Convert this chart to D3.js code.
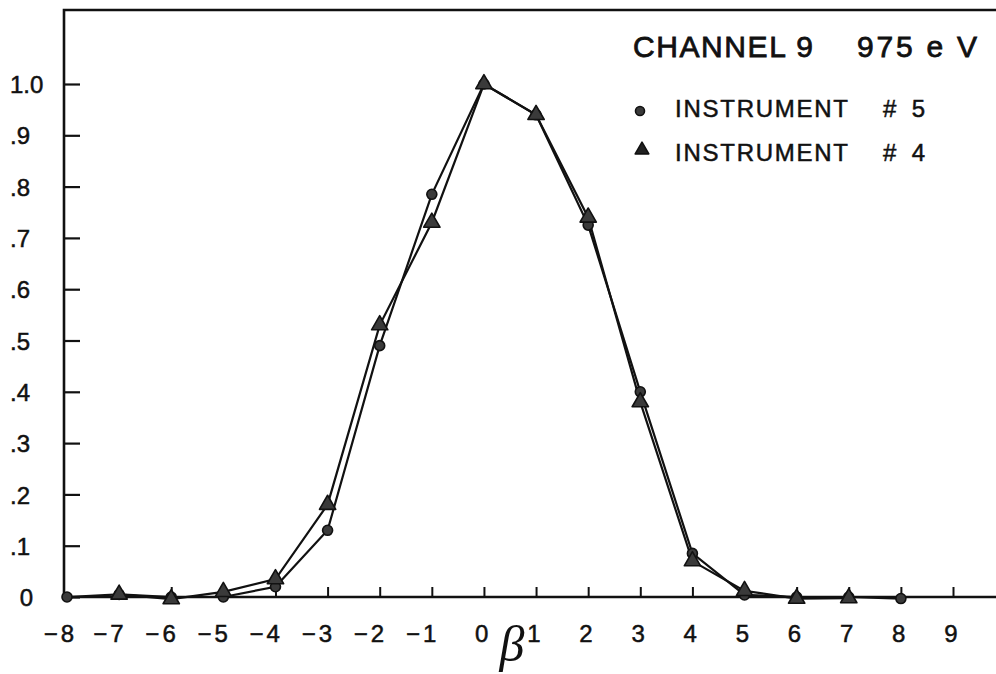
<!DOCTYPE html>
<html>
<head>
<meta charset="utf-8">
<script src="https://cdn.jsdelivr.net/npm/d3@7"></script>
<style>
  html, body { margin: 0; padding: 0; background: #fff; }
  svg { display: block; }
  text { font-family: "Liberation Sans", Arial, sans-serif; fill: #111; }
  text.inked { stroke: #111; stroke-width: 0.5px; }
</style>
</head>
<body>
<svg id="chart" width="996" height="674"></svg>
<script>
// Relative response versus beta for channel 9 (975 eV)
const betaInst5 = [-8, -7, -6, -5, -4, -3, -2, -1, 0, 1, 2, 3, 4, 5, 6, 7, 8];
const valuesInst5 = [0, 0.005, 0, 0, 0.02, 0.13, 0.49, 0.785, 1.0, 0.94, 0.725, 0.40, 0.085, 0.004, 0, 0, -0.003];

const betaInst4 = [-7, -6, -5, -4, -3, -2, -1, 0, 1, 2, 3, 4, 5, 6, 7];
const valuesInst4 = [0.005, -0.004, 0.01, 0.035, 0.18, 0.53, 0.73, 1.0, 0.94, 0.74, 0.38, 0.07, 0.012, -0.003, -0.002];

const xTickValues = [-8, -7, -6, -5, -4, -3, -2, -1, 0, 1, 2, 3, 4, 5, 6, 7, 8, 9];
const xTickLabels = ["−8", "−7", "−6", "−5", "−4", "−3", "−2", "−1", "0", "1", "2", "3", "4", "5", "6", "7", "8", "9"];
const yTickValues = [0, 0.1, 0.2, 0.3, 0.4, 0.5, 0.6, 0.7, 0.8, 0.9, 1.0];
const yTickLabels = ["0", ".1", ".2", ".3", ".4", ".5", ".6", ".7", ".8", ".9", "1.0"];

const titleParts = ["CHANNEL 9", "975 e V"];
const legendNames = ["INSTRUMENT", "INSTRUMENT"];
const legendNumbers = ["# 5", "# 4"];
const legendSymbols = ["circle", "triangle"];
const axisTitle = "β";

const svg = d3.select("#chart");
const W = 996;
const axisX = 64, axisY = 597, topY = 10;

const x = d3.scaleLinear().domain([-8, 9]).range([67, 953]);
const y = d3.scaleLinear().domain([0, 1]).range([axisY, 84]);

const ink = "#111";

// Frame: left axis, top edge, bottom axis
svg.append("path")
  .attr("d", `M${W},${topY}H${axisX}V${axisY}H${W}`)
  .attr("fill", "none")
  .attr("stroke", ink)
  .attr("stroke-width", 2.6);

// Y axis ticks (pointing inward) and labels
const yAxis = d3.axisLeft(y)
  .tickValues(yTickValues)
  .tickSize(-16)
  .tickSizeOuter(0)
  .tickFormat((d, i) => yTickLabels[i]);

const gy = svg.append("g").attr("transform", `translate(${axisX},0)`).call(yAxis);
gy.select(".domain").remove();
gy.selectAll(".tick line").attr("stroke", ink).attr("stroke-width", 2.2);
gy.selectAll(".tick text")
  .attr("class", "inked")
  .attr("font-size", 24)
  .attr("font-family", "Liberation Sans, Arial, sans-serif")
  .attr("fill", ink)
  .attr("dy", "0.36em")
  .attr("text-anchor", (d) => d === 0 ? "end" : "start")
  .attr("x", (d) => d === 0 ? 33 - axisX : 10 - axisX);

// X axis ticks (pointing up) and labels
const xAxis = d3.axisBottom(x)
  .tickValues(xTickValues.slice(1))
  .tickSize(-10)
  .tickSizeOuter(0)
  .tickFormat((d) => xTickLabels[xTickValues.indexOf(d)]);

const gx = svg.append("g").attr("transform", `translate(0,${axisY})`).call(xAxis);
gx.select(".domain").remove();
gx.selectAll(".tick line").attr("stroke", ink).attr("stroke-width", 2);
gx.selectAll(".tick text")
  .attr("class", "inked")
  .attr("font-size", 24)
  .attr("font-family", "Liberation Sans, Arial, sans-serif")
  .attr("fill", ink)
  .attr("text-anchor", "end")
  .attr("x", 7)
  .attr("y", 45)
  .attr("dy", 0)
  .attr("letter-spacing", 3);

// Label for the leftmost beta value sits at the axis corner
svg.append("text")
  .attr("class", "inked")
  .attr("x", x(-8) + 10)
  .attr("y", axisY + 45)
  .attr("text-anchor", "end")
  .attr("font-size", 24)
  .attr("letter-spacing", 3)
  .text(xTickLabels[0]);

// Beta axis title
svg.append("text")
  .attr("x", 512)
  .attr("y", 661)
  .attr("text-anchor", "middle")
  .attr("font-style", "italic")
  .attr("font-size", 50)
  .style("font-family", "'Liberation Serif', 'DejaVu Serif', serif")
  .text(axisTitle);

// Curves
const line = d3.line().x((d) => x(d[0])).y((d) => y(d[1]));
const series4 = betaInst4.map((b, i) => [b, valuesInst4[i]]);
const series5 = betaInst5.map((b, i) => [b, valuesInst5[i]]);

svg.append("path").datum(series5)
  .attr("d", line).attr("fill", "none").attr("stroke", ink).attr("stroke-width", 2.2);
svg.append("path").datum(series4)
  .attr("d", line).attr("fill", "none").attr("stroke", ink).attr("stroke-width", 2.2);

const tri = d3.symbol(d3.symbolTriangle, 115);
const triSmall = d3.symbol(d3.symbolTriangle, 80);
const markFill = "#3a3a3a";

svg.append("g").selectAll("circle").data(series5).join("circle")
  .attr("cx", (d) => x(d[0])).attr("cy", (d) => y(d[1])).attr("r", 5)
  .attr("fill", markFill).attr("stroke", ink).attr("stroke-width", 1.6);

svg.append("g").selectAll("path").data(series4).join("path")
  .attr("d", tri)
  .attr("transform", (d) => `translate(${x(d[0])},${y(d[1])})`)
  .attr("fill", markFill).attr("stroke", ink).attr("stroke-width", 1.6)
  .attr("stroke-linejoin", "round");

// Title block
svg.append("text").attr("class", "inked").attr("x", 633).attr("y", 57).attr("font-size", 30)
  .attr("textLength", 180).attr("lengthAdjust", "spacing").style("stroke-width", "0.8px")
  .text(titleParts[0]);
svg.append("text").attr("class", "inked").attr("x", 857).attr("y", 57).attr("font-size", 30)
  .attr("textLength", 120).attr("lengthAdjust", "spacing").style("stroke-width", "0.8px")
  .text(titleParts[1]);

// Legend
const legendRows = [
  { base: 117, markY: 111 },
  { base: 161, markY: 150 }
];
legendRows.forEach((row, i) => {
  if (legendSymbols[i] === "circle") {
    svg.append("circle").attr("cx", 640).attr("cy", row.markY).attr("r", 4.5)
      .attr("fill", markFill).attr("stroke", ink).attr("stroke-width", 1.6);
  } else {
    svg.append("path").attr("d", triSmall).attr("transform", `translate(642,${row.markY})`)
      .attr("fill", "#222").attr("stroke", ink).attr("stroke-width", 1.6)
      .attr("stroke-linejoin", "round");
  }
  svg.append("text").attr("class", "inked").attr("x", 675).attr("y", row.base).attr("font-size", 24)
    .attr("textLength", 173).attr("lengthAdjust", "spacing").text(legendNames[i]);
  svg.append("text").attr("class", "inked").attr("x", 883).attr("y", row.base).attr("font-size", 24)
    .attr("textLength", 42).attr("lengthAdjust", "spacing").text(legendNumbers[i]);
});
</script>
</body>
</html>
